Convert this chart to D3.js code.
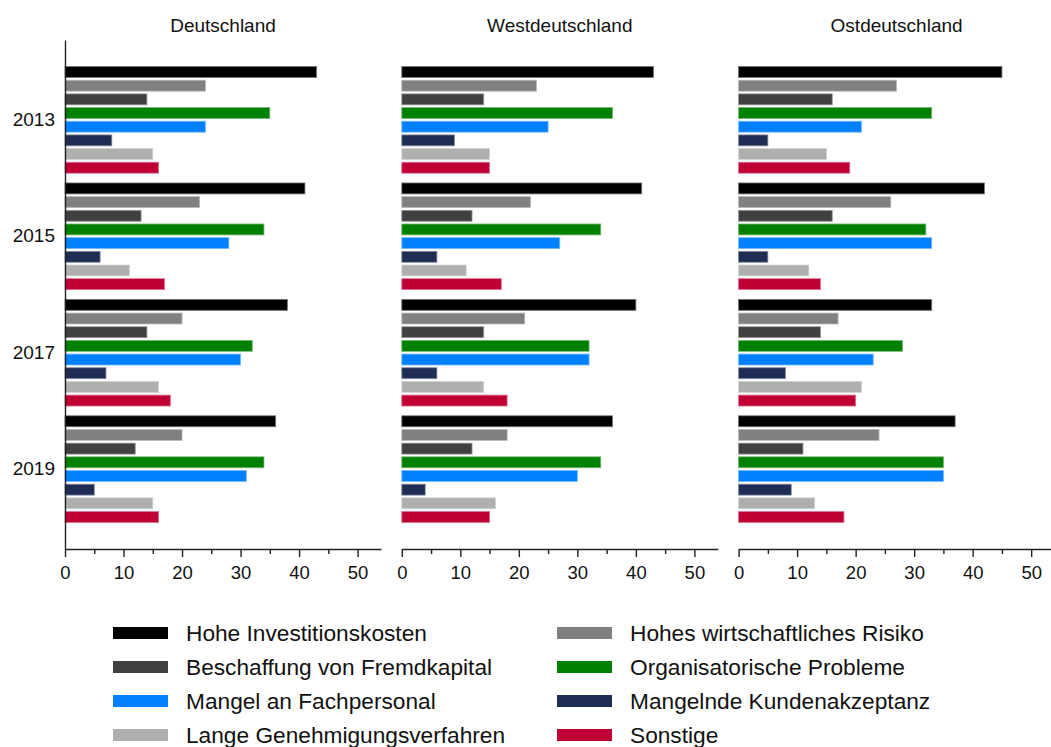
<!doctype html>
<html lang="de">
<head>
  <meta charset="utf-8">
  <title>Hemmnisse</title>
  <style>
    body { margin: 0; background: #fff; }
    svg text { font-family: "Liberation Sans", Arial, sans-serif; fill: #111; }
    .axis path, .axis line { stroke: #222; stroke-width: 1.4; }
  </style>
</head>
<body>
  <div id="vis"></div>

  <script src="https://cdn.jsdelivr.net/npm/d3@7"></script>
  <script>
    const years = ['2013', '2015', '2017', '2019'];
    const regions = ['Deutschland', 'Westdeutschland', 'Ostdeutschland'];
    const series = [
      'Hohe Investitionskosten',
      'Hohes wirtschaftliches Risiko',
      'Beschaffung von Fremdkapital',
      'Organisatorische Probleme',
      'Mangel an Fachpersonal',
      'Mangelnde Kundenakzeptanz',
      'Lange Genehmigungsverfahren',
      'Sonstige'
    ];
    const colors = ['#000000', '#808080', '#404040', '#008000', '#0080ff', '#1f2d55', '#afafaf', '#c00035'];

    // one row per year, values in series order
    const valuesDeutschland = [
      [43, 24, 14, 35, 24, 8, 15, 16],
      [41, 23, 13, 34, 28, 6, 11, 17],
      [38, 20, 14, 32, 30, 7, 16, 18],
      [36, 20, 12, 34, 31, 5, 15, 16]
    ];
    const valuesWest = [
      [43, 23, 14, 36, 25, 9, 15, 15],
      [41, 22, 12, 34, 27, 6, 11, 17],
      [40, 21, 14, 32, 32, 6, 14, 18],
      [36, 18, 12, 34, 30, 4, 16, 15]
    ];
    const valuesOst = [
      [45, 27, 16, 33, 21, 5, 15, 19],
      [42, 26, 16, 32, 33, 5, 12, 14],
      [33, 17, 14, 28, 23, 8, 21, 20],
      [37, 24, 11, 35, 35, 9, 13, 18]
    ];
    const panelValues = [valuesDeutschland, valuesWest, valuesOst];

    const majorTicks = [0, 10, 20, 30, 40, 50];
    const minorTicks = [5, 15, 25, 35, 45];

    const w = 1051, h = 747;
    const plotTop = 40, plotBottom = 549;
    const firstLeft = 65, panelWidth = 316, panelStep = 336.8;

    const svg = d3.select('#vis')
      .append('svg')
        .attr('width', w)
        .attr('height', h);

    const y = d3.scaleBand()
      .domain(years)
      .range([plotTop, plotBottom])
      .paddingInner(0.084)
      .paddingOuter(0.228);

    const yInner = d3.scaleBand()
      .domain(d3.range(series.length))
      .range([0, y.bandwidth()])
      .paddingInner(0.2);

    regions.forEach((region, p) => {
      const left = firstLeft + p * panelStep;
      const x = d3.scaleLinear()
        .domain([0, 54])
        .range([left, left + panelWidth]);

      const g = svg.append('g');

      g.append('text')
        .attr('x', left + panelWidth / 2)
        .attr('y', 32)
        .attr('text-anchor', 'middle')
        .style('font-size', '19px')
        .text(region);

      const groups = g.selectAll('.year')
        .data(panelValues[p])
        .enter()
        .append('g')
          .attr('class', 'year')
          .attr('transform', (d, i) => 'translate(0,' + y(years[i]) + ')');

      groups.selectAll('rect')
        .data(d => d)
        .enter()
        .append('rect')
          .attr('x', x(0))
          .attr('y', (d, i) => yInner(i))
          .attr('width', d => x(d) - x(0))
          .attr('height', yInner.bandwidth())
          .attr('fill', (d, i) => colors[i])
          .attr('stroke', (d, i) => d3.interpolateRgb(colors[i], '#fff')(0.45))
          .attr('stroke-width', 0.8);

      // minor ticks first, so the labelled axis sits on top
      g.append('g')
        .attr('class', 'axis')
        .attr('transform', 'translate(0,' + plotBottom + ')')
        .call(d3.axisBottom(x).tickValues(minorTicks).tickSize(5).tickFormat(''))
        .call(a => a.select('.domain').remove());

      g.append('g')
        .attr('class', 'axis')
        .attr('transform', 'translate(0,' + plotBottom + ')')
        .call(d3.axisBottom(x).tickValues(majorTicks).tickSize(8).tickSizeOuter(0).tickPadding(9))
        .call(a => a.selectAll('text').style('font-size', '18.5px').attr('fill', '#111'));

      if (p === 0) {
        g.append('g')
          .attr('class', 'axis')
          .attr('transform', 'translate(' + left + ',0)')
          .call(d3.axisLeft(y).tickSize(0).tickSizeOuter(0).tickPadding(10))
          .call(a => a.selectAll('text').style('font-size', '19px').attr('fill', '#111'));
      }
    });

    // legend: two columns, filled row by row
    const legendX = [113, 557];
    const legendY = d3.scalePoint()
      .domain(d3.range(4))
      .range([633, 735]);

    const items = svg.selectAll('.legend')
      .data(series)
      .enter()
      .append('g')
        .attr('class', 'legend')
        .attr('transform', (d, i) => 'translate(' + legendX[i % 2] + ',' + legendY(Math.floor(i / 2)) + ')');

    items.append('rect')
      .attr('x', 0)
      .attr('y', -6)
      .attr('width', 55)
      .attr('height', 12)
      .attr('fill', (d, i) => colors[i]);

    items.append('text')
      .attr('x', 73)
      .attr('dy', '0.35em')
      .style('font-size', '22.7px')
      .text(d => d);
  </script>
</body>
</html>
